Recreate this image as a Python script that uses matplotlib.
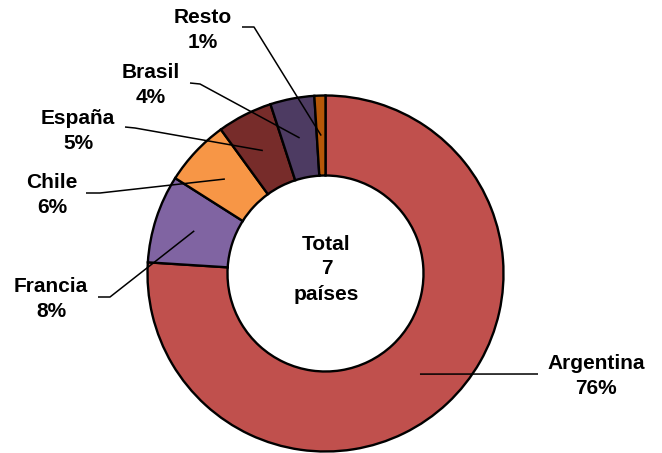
import numpy as np
import matplotlib
matplotlib.use("Agg")
import matplotlib.pyplot as plt

# Data
countries = ['Argentina', 'Francia', 'Chile', 'España', 'Brasil', 'Resto']
shares = [76, 8, 6, 5, 4, 1]
colors = ['#C0504D', '#8064A2', '#F79646', '#772C2A', '#4D3B62', '#B65708']
center_text = 'Total\n7\npaíses'

# label placement in pixel coords (x, y from top), and leader bend point
label_pos = {
    'Argentina': (596, 376), 'Francia': (51, 299), 'Chile': (52, 195),
    'España': (78, 131), 'Brasil': (151, 85), 'Resto': (203, 30),
}
bend_pos = {
    'Argentina': (538, 374), 'Francia': (110, 297), 'Chile': (100, 193),
    'España': (135, 128), 'Brasil': (200, 84), 'Resto': (254, 27),
}
stub_end = {
    'Argentina': (538, 374), 'Francia': (98, 297), 'Chile': (86, 193),
    'España': (125, 127), 'Brasil': (190, 83), 'Resto': (242, 27),
}

W, H = 662, 453
plt.rcParams['font.family'] = ['Liberation Sans', 'DejaVu Sans']

fig = plt.figure(figsize=(W / 100, H / 100), dpi=100)
ax = fig.add_axes([0, 0, 1, 1])
ax.set_xlim(0, W)
ax.set_ylim(0, H)
ax.axis('off')

cx, cy = 325.5, H - 273.5
R, ring = 178, 80

wedges, _ = ax.pie(shares, colors=colors, startangle=90, counterclock=False,
                   radius=R, center=(cx, cy),
                   wedgeprops=dict(width=ring, edgecolor='black', linewidth=1.7))
ax.set_xlim(0, W)
ax.set_ylim(0, H)
ax.set_aspect('equal')

rmid = R - ring / 2
for w, name, val in zip(wedges, countries, shares):
    ang = np.deg2rad((w.theta1 + w.theta2) / 2)
    x0 = cx + rmid * np.cos(ang)
    y0 = cy + rmid * np.sin(ang)
    bx, by = bend_pos[name]
    sx, sy = stub_end[name]
    ax.plot([x0, bx, sx], [y0, H - by, H - sy], color='black', lw=1.1,
            solid_capstyle='butt')
    lx, ly = label_pos[name]
    ax.text(lx, H - ly, f'{name}\n{val}%', ha='center', va='center',
            fontsize=15, fontweight='bold', linespacing=1.35)

ax.text(cx + 1, H - 269, center_text, ha='center', va='center',
        fontsize=15, fontweight='bold', linespacing=1.4)

fig.savefig('out.png', dpi=100)
